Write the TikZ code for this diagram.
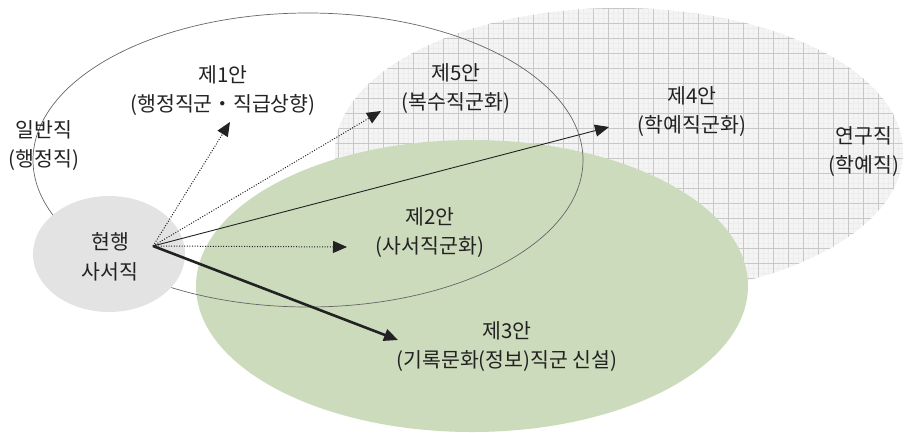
\documentclass[tikz,border=0pt]{standalone}
\usepackage{fontspec}
\setmainfont{Noto Sans CJK KR}
\usetikzlibrary{arrows.meta}
\definecolor{greenfill}{RGB}{205,219,189}
\definecolor{grayfill}{RGB}{227,227,227}
\definecolor{gridfill}{RGB}{244,244,244}
\definecolor{gridminor}{RGB}{237,237,237}
\definecolor{gridline}{RGB}{200,200,200}
\definecolor{ink}{RGB}{34,34,34}
\begin{document}
\begin{tikzpicture}[x=1pt,y=-1pt,
  lbl/.style={font=\fontsize{20.5}{29}\selectfont, align=center, inner sep=0pt, text=ink},
  tiphead/.style={-{Triangle[length=14pt,width=12pt]}},
  dotarrow/.style={tiphead, draw=ink, line width=1pt, dash pattern=on 1pt off 1.6pt},
  thinarrow/.style={tiphead, draw=ink, line width=0.9pt},
  thickarrow/.style={tiphead, draw=ink, line width=2.6pt},
  outline/.style={draw=black!60, line width=0.7pt}
]
\useasboundingbox (0,0) rectangle (904,432);
% research (grid) ellipse
\begin{scope}
  \clip (619,152) ellipse [x radius=284, y radius=144];
  \fill[gridfill] (330,0) rectangle (904,300);
  \foreach \gx in {0,...,115} {
    \draw[gridminor, line width=0.35pt] ({333+5*\gx},0) -- ({333+5*\gx},300);
  }
  \foreach \gy in {0,...,60} {
    \draw[gridminor, line width=0.35pt] (330,{3+5*\gy}) -- (904,{3+5*\gy});
  }
  \foreach \gx in {0,...,38} {
    \draw[gridline, line width=0.6pt] ({338+15*\gx},0) -- ({338+15*\gx},300);
  }
  \foreach \gy in {0,...,20} {
    \draw[gridline, line width=0.6pt] (330,{8+15*\gy}) -- (904,{8+15*\gy});
  }
\end{scope}
% archive (green) ellipse
\fill[greenfill] (472,286) ellipse [x radius=276, y radius=146];
% general (outline) ellipse
\draw[outline] (308,160) ellipse [x radius=275, y radius=147];
% current librarian ellipse
\fill[grayfill] (109,254) ellipse [x radius=76, y radius=58];

% labels
\node[lbl] (cur) at (110,257) {현행\\[1pt]사서직};
\node[lbl] (gen) at (44,146) {일반직\\(행정직)};
\node[lbl] (p1) at (223,91) {제1안\\(행정직군・직급상향)};
\node[lbl] (p5) at (456,89) {제5안\\(복수직군화)};
\node[lbl] (p4) at (692,112) {제4안\\(학예직군화)};
\node[lbl] (res) at (864,152) {연구직\\(학예직)};
\node[lbl] (p2) at (430,233) {제2안\\(사서직군화)};
\node[lbl] (p3) at (507,347) {제3안\\(기록문화(정보)직군 신설)};

% connectors
\coordinate (src) at (153,246);
\coordinate (t1) at (230,122);
\coordinate (t5) at (381,111);
\coordinate (t4) at (609,127);
\coordinate (t2) at (347,247);
\coordinate (t3) at (398,340);
\draw[dotarrow] (src) -- (t1);
\draw[dotarrow] (src) -- (t5);
\draw[thinarrow] (src) -- (t4);
\draw[dotarrow] (src) -- (t2);
\draw[thickarrow] (src) -- (t3);
\end{tikzpicture}
\end{document}
